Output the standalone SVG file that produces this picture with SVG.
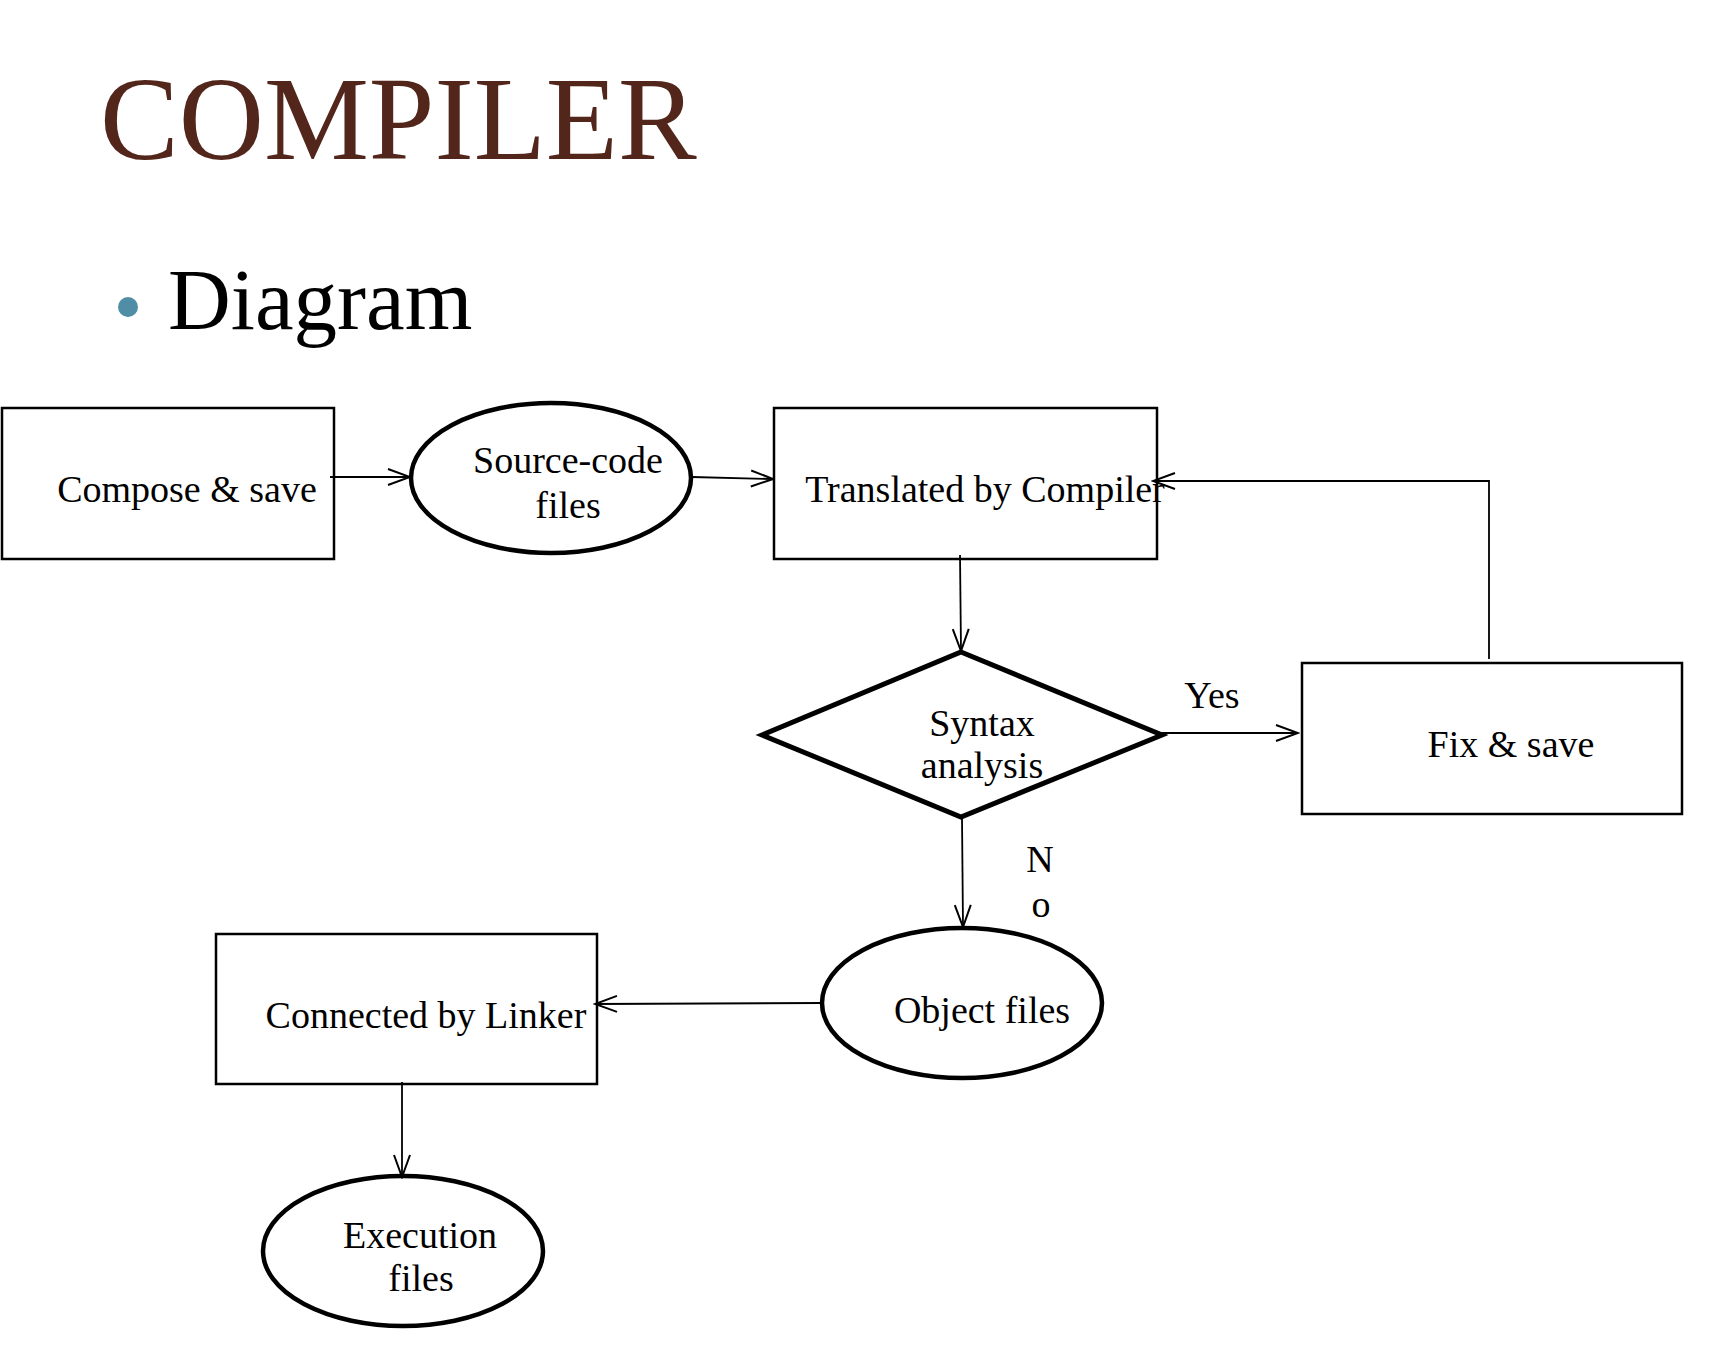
<svg xmlns="http://www.w3.org/2000/svg" width="1722" height="1350" viewBox="0 0 1722 1350">
<style>
text { font-family: "Liberation Serif", "Times New Roman", serif; fill: #000; }
.lbl { font-size: 38px; text-anchor: middle; }
.box { fill: #fff; stroke: #000; stroke-width: 2.5; }
.oval { fill: #fff; stroke: #000; stroke-width: 4.5; }
.dia { fill: #fff; stroke: #000; stroke-width: 5; stroke-linejoin: miter; }
.conn { fill: none; stroke: #000; stroke-width: 1.8; marker-end: url(#arr); }
</style>
<defs>
<marker id="arr" viewBox="0 0 26 20" refX="24" refY="10" markerWidth="26" markerHeight="20" markerUnits="userSpaceOnUse" orient="auto">
<path d="M2,2 L24,10 L2,18" fill="none" stroke="#000" stroke-width="2"/>
</marker>
</defs>
<rect width="1722" height="1350" fill="#fff"/>
<g id="title">
<text x="100" y="159" style="font-size:118px;fill:#52261a">COMPILER</text>
</g>
<g id="bullet">
<circle cx="128" cy="307" r="10" fill="#4f8ea6"/>
<text x="168" y="329" style="font-size:87px">Diagram</text>
</g>
<g id="compose">
<rect class="box" x="2" y="408" width="332" height="151"/>
<text class="lbl" x="187" y="502">Compose &amp; save</text>
</g>
<g id="source">
<ellipse class="oval" cx="551" cy="478" rx="140" ry="75"/>
<text class="lbl" x="568" y="473">Source-code</text>
<text class="lbl" x="568" y="518">files</text>
</g>
<g id="translated">
<rect class="box" x="774" y="408" width="383" height="151"/>
<text class="lbl" x="985" y="502">Translated by Compiler</text>
</g>
<g id="syntax">
<polygon class="dia" points="961,652 1162,735 961,817 762,735"/>
<text class="lbl" x="982" y="736">Syntax</text>
<text class="lbl" x="982" y="778">analysis</text>
</g>
<g id="fix">
<rect class="box" x="1302" y="663" width="380" height="151"/>
<text class="lbl" x="1511" y="757">Fix &amp; save</text>
</g>
<g id="object">
<ellipse class="oval" cx="962" cy="1003" rx="140" ry="75"/>
<text class="lbl" x="982" y="1023">Object files</text>
</g>
<g id="linker">
<rect class="box" x="216" y="934" width="381" height="150"/>
<text class="lbl" x="426" y="1028">Connected by Linker</text>
</g>
<g id="execution">
<ellipse class="oval" cx="403" cy="1251" rx="140" ry="75"/>
<text class="lbl" x="420" y="1248">Execution</text>
<text class="lbl" x="421" y="1291">files</text>
</g>
<g id="connectors">
<path class="conn" d="M330,477 L410,477"/>
<path class="conn" d="M692,477 L773,479"/>
<path class="conn" d="M960,555 L961,651"/>
<path class="conn" d="M1160,733 L1298,733"/>
<path class="conn" d="M1489,659 L1489,481 L1153,481"/>
<path class="conn" d="M962,817 L963,927"/>
<path class="conn" d="M822,1003 L595,1004"/>
<path class="conn" d="M402,1082 L402,1177"/>
<text class="lbl" x="1212" y="708">Yes</text>
<text class="lbl" x="1040" y="872">N</text>
<text class="lbl" x="1041" y="917">o</text>
</g>
</svg>
